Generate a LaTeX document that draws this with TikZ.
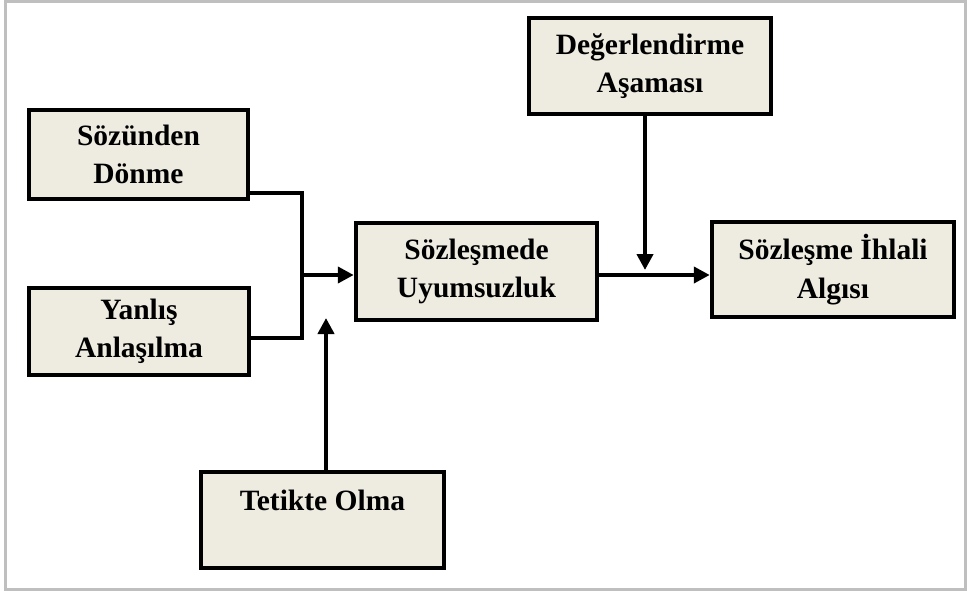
\documentclass[tikz,border=0pt]{standalone}
\usepackage{fontspec}
\setmainfont{Liberation Serif}
\usetikzlibrary{arrows.meta}
\definecolor{boxfill}{HTML}{EEECE1}
\definecolor{framegray}{HTML}{BFBFBF}
\begin{document}
\begin{tikzpicture}[x=1pt,y=-1pt,
  box/.style={draw=black, line width=4.5pt, fill=boxfill, align=center,
    font=\fontsize{29.5}{38.5}\selectfont\bfseries, inner sep=0pt},
  link/.style={line width=4.5pt},
  flow/.style={line width=4.5pt, -{Triangle[length=16pt,width=16pt]}}]
  \useasboundingbox (0,0) rectangle (971,591);
  % outer frame
  \draw[framegray, line width=3pt] (5.5,1.5) rectangle (965,589);

  % boxes
  \node[box, minimum width=219pt, minimum height=89pt] (sd) at (138.5,154.5) {Sözünden\\Dönme};
  \node[box, minimum width=220pt, minimum height=87pt] (ya) at (139,331.5) {Yanlış\\Anlaşılma};
  \node[box, minimum width=241pt, minimum height=97pt] (su) at (476.5,271.5) {Sözleşmede\\Uyumsuzluk};
  \node[box, minimum width=242pt, minimum height=96pt] (de) at (650,66) {Değerlendirme\\Aşaması};
  \node[box, minimum width=242pt, minimum height=95pt] (si) at (833,269.5) {Sözleşme İhlali\\Algısı};
  \node[box, minimum width=243pt, minimum height=96pt] (to) at (322.5,520) {Tetikte Olma\\\mbox{}};

  % helper points for the connectors
  \coordinate (sdy) at (0,193);
  \coordinate (yay) at (0,338);
  \coordinate (j) at (302,275);
  \coordinate (tt) at (326,318);
  \coordinate (dd) at (645,270);

  % the two inputs merge into one arrow
  \draw[link, line join=miter] (sd.east |- sdy) -| (j) |- (ya.east |- yay);
  \draw[flow] (j) -- (su.west |- j);
  % Tetikte Olma arrow
  \draw[flow] (to.north -| tt) -- (tt);
  % main output arrow
  \draw[flow] (su.east |- j) -- (si.west |- j);
  % Değerlendirme arrow
  \draw[flow] (de.south -| dd) -- (dd);
\end{tikzpicture}
\end{document}
